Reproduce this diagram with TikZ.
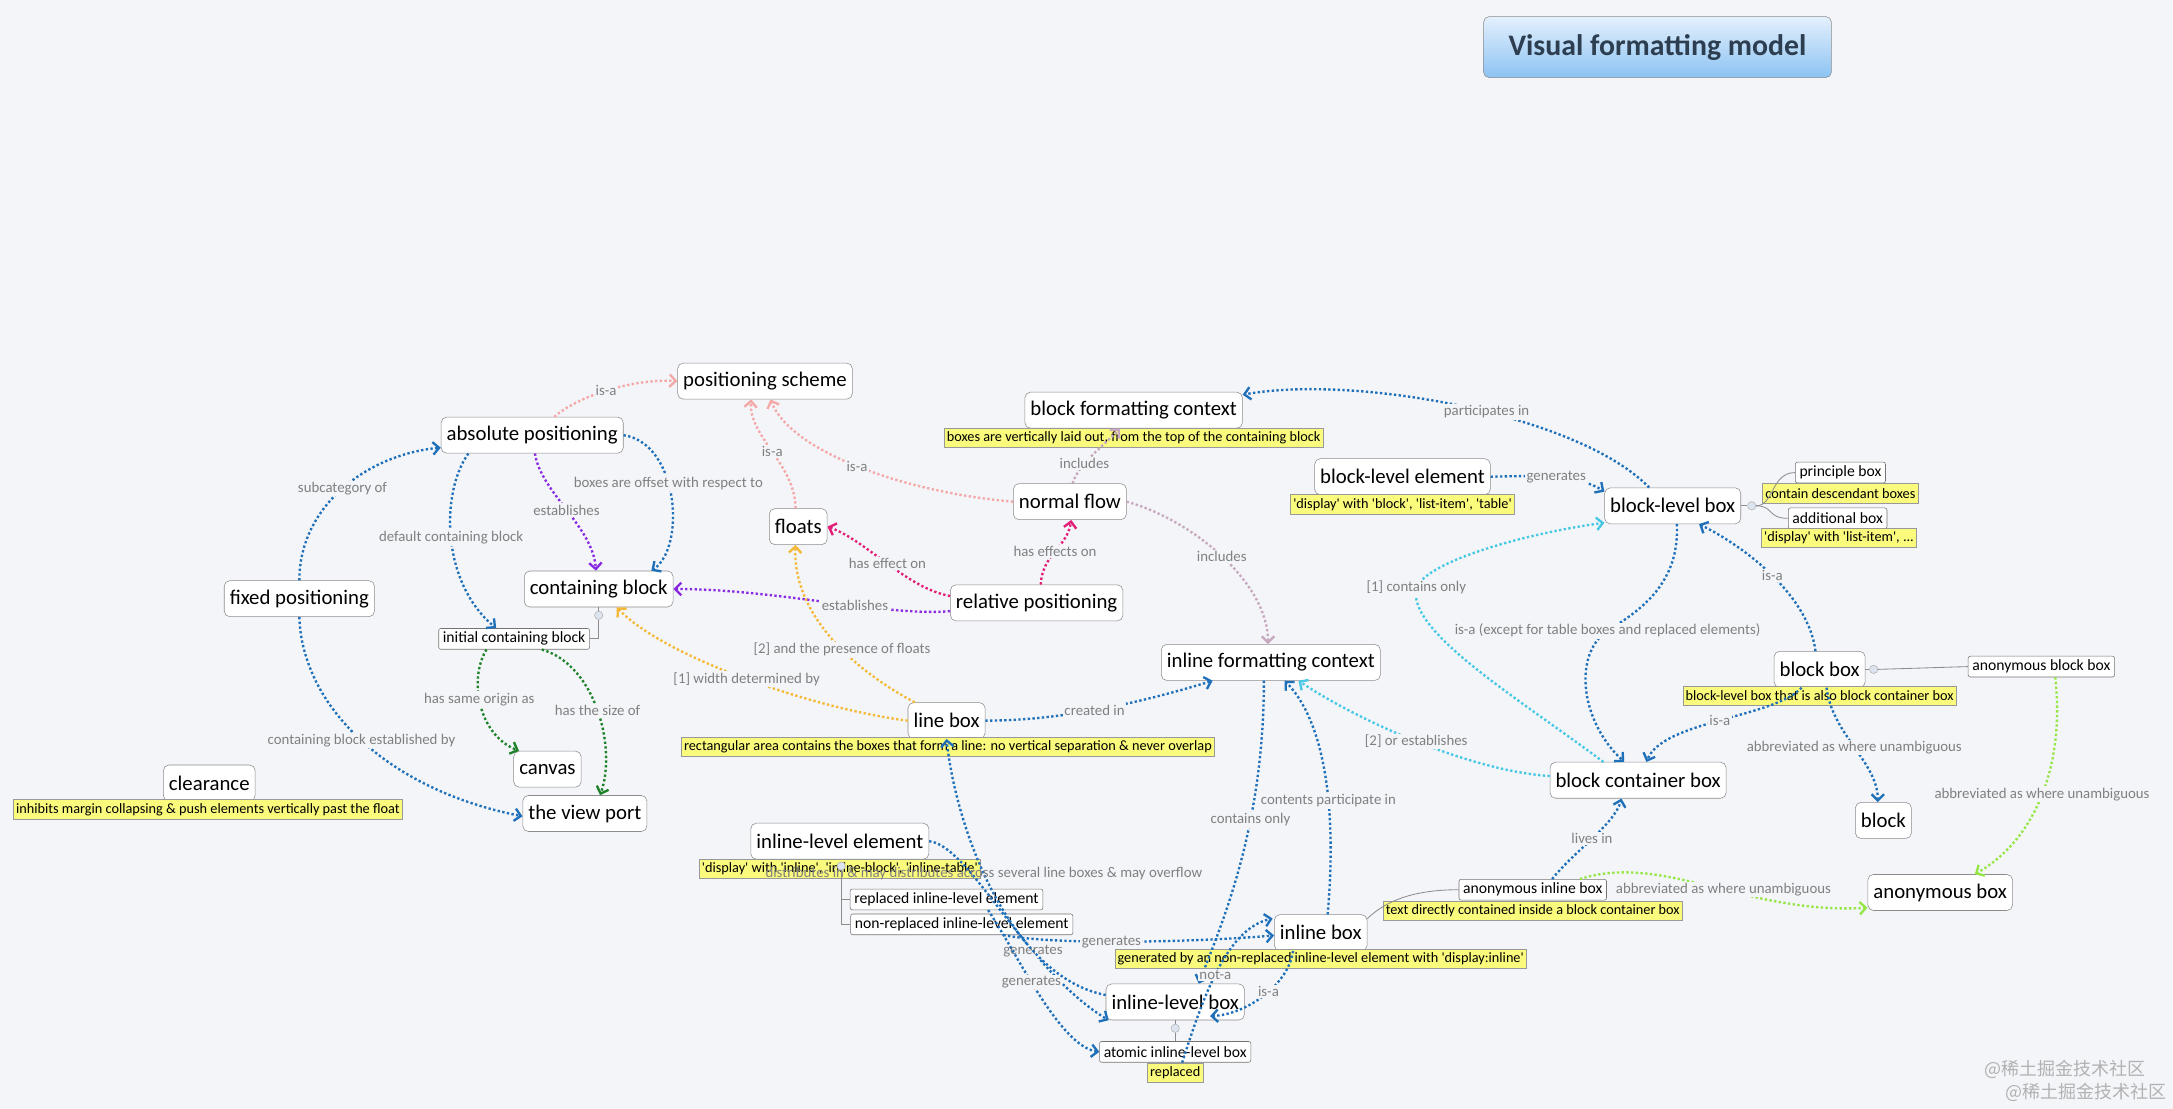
\documentclass[tikz,border=0pt]{standalone}
\usepackage{fontspec}
\setmainfont{Carlito}
\newfontfamily\cjk{Noto Sans CJK SC}
\usetikzlibrary{arrows.meta}

\definecolor{paper}{RGB}{243,245,249}
\definecolor{noteyellow}{RGB}{250,250,125}
\definecolor{knobblue}{RGB}{220,228,240}
\definecolor{titletop}{RGB}{228,240,253}
\definecolor{titlebot}{RGB}{140,195,242}
\definecolor{titletext}{RGB}{45,62,80}
\definecolor{cBlue}{RGB}{32,112,185}
\definecolor{cPink}{RGB}{244,168,168}
\definecolor{cPurple}{RGB}{138,43,226}
\definecolor{cMagenta}{RGB}{226,30,120}
\definecolor{cOrange}{RGB}{245,185,55}
\definecolor{cMauve}{RGB}{200,168,190}
\definecolor{cGreen}{RGB}{30,130,40}
\definecolor{cCyan}{RGB}{70,200,228}
\definecolor{cLime}{RGB}{150,230,70}

\newcommand{\qt}[1]{\textquotesingle#1\textquotesingle}

\begin{document}
\begin{tikzpicture}[x=1pt, y=1pt,
	heading/.style={draw=black!45, rounded corners=4pt, top color=titletop, bottom color=titlebot, text=titletext, font=\fontsize{21.5}{23}\selectfont\bfseries, minimum width=251pt, minimum height=44pt},
	topic/.style={draw=black!45, fill=white, rounded corners=4pt, font=\fontsize{15}{16}\selectfont, inner xsep=4pt, inner ysep=0pt, minimum height=26pt},
	sub/.style={draw=black!55, fill=white, rounded corners=1.5pt, font=\fontsize{11.3}{12}\selectfont, inner xsep=3pt, inner ysep=0pt, minimum height=15pt},
	note/.style={draw=black!40, fill=noteyellow, font=\fontsize{10.3}{11}\selectfont, inner xsep=2pt, inner ysep=0pt, minimum height=14pt},
	lbl/.style={text=black!50, font=\fontsize{10.7}{11}\selectfont, fill=paper, inner sep=1pt},
	rel/.style={line width=1.7pt, dash pattern=on 1.7pt off 1.7pt, -{Straight Barb[length=4.5pt,width=9pt]}},
	tree/.style={draw=black!45, line width=0.6pt},
	knob/.style={circle, draw=black!30, fill=knobblue, minimum size=6pt, inner sep=0pt},
	wmark/.style={text=black!30, font=\cjk\fontsize{13}{14}\selectfont, inner sep=0pt},
]

\useasboundingbox (0,0) rectangle (1568,-800);
\fill[paper] (0,0) rectangle (1568,-800);

\node[heading] (title) at (1196,-34) {Visual formatting model};

% positioning
\node[topic] (scheme) at (552,-275) {positioning scheme};
\node[topic] (abs) at (384,-314) {absolute positioning};
\node[topic] (fixed) at (216,-432) {fixed positioning};
\node[topic] (cb) at (432,-425) {containing block};
\node[sub] (icb) at (371,-461) {initial containing block};
\node[topic] (canvas) at (395,-555) {canvas};
\node[topic] (viewport) at (422,-587) {the view port};
\node[topic] (clear) at (151,-565) {clearance};
\node[note] (clearnote) at (150,-584) {inhibits margin collapsing \& push elements vertically past the float};
\node[topic] (floats) at (576,-380) {floats};
\node[topic] (normal) at (772,-362) {normal flow};
\node[topic] (relpos) at (748,-435) {relative positioning};

% block side
\node[topic] (bfc) at (818,-296) {block formatting context};
\node[note] (bfcnote) at (818,-316) {boxes are vertically laid out, from the top of the containing block};
\node[topic] (blel) at (1012,-344) {block-level element};
\node[note] (blelnote) at (1012,-364) {\qt{display} with \qt{block}, \qt{list-item}, \qt{table}};
\node[topic] (blbox) at (1207,-365) {block-level box};
\node[sub] (principle) at (1328,-341) {principle box};
\node[note] (principlenote) at (1328,-356) {contain descendant boxes};
\node[sub] (additional) at (1326,-374) {additional box};
\node[note] (additionalnote) at (1327,-388) {\qt{display} with \qt{list-item}, ...};
\node[topic] (blockbox) at (1313,-483) {block box};
\node[note] (blockboxnote) at (1313,-502) {block-level box that is also block container box};
\node[sub] (anonblock) at (1473,-481) {anonymous block box};
\node[topic] (block) at (1359,-592) {block};
\node[topic] (anonbox) at (1400,-644) {anonymous box};
\node[topic] (bcb) at (1182,-563) {block container box};

% inline side
\node[topic] (ifc) at (917,-478) {inline formatting context};
\node[topic] (linebox) at (683,-520) {line box};
\node[note] (lineboxnote) at (684,-539) {rectangular area contains the boxes that form a line: no vertical separation \& never overlap};
\node[topic] (ilel) at (606,-607) {inline-level element};
\node[note] (ilelnote) at (606,-627) {\qt{display} with \qt{inline}, \qt{inline-block}, \qt{inline-table}};
\node[sub] (replel) at (683,-649) {replaced inline-level element};
\node[sub] (nonrepl) at (694,-667) {non-replaced inline-level element};
\node[topic] (inlinebox) at (953,-673) {inline box};
\node[note] (inlineboxnote) at (953,-692) {generated by an non-replaced inline-level element with \qt{display:inline}};
\node[sub] (anoninline) at (1106,-642) {anonymous inline box};
\node[note] (anoninlinenote) at (1106,-657) {text directly contained inside a block container box};
\node[topic] (ilbox) at (848,-723) {inline-level box};
\node[sub] (atomic) at (848,-759) {atomic inline-level box};
\node[note] (atomicnote) at (848,-774) {replaced};

\node[wmark] (wm1) at (1490,-772) {@稀土掘金技术社区};
\node[wmark] (wm2) at (1505,-788) {@稀土掘金技术社区};

% tree lines
\node[knob] (cbknob) at (432,-444) {};
\node[knob] (ilelknob) at (607,-625) {};
\node[knob] (ilboxknob) at (848,-742) {};
\node[knob] (blknob) at (1264,-365) {};
\node[knob] (bbknob) at (1352,-483) {};
\draw[tree] (cb.south) -- (cbknob.north);
\draw[tree] (cbknob.south) |- (icb.east);
\draw[tree] (ilelknob.south) |- (replel.west);
\draw[tree] (ilelknob.south) |- (nonrepl.west);
\draw[tree] (ilbox.south) -- (ilboxknob.north);
\draw[tree] (ilboxknob.south) -- (atomic.north);
\draw[tree] (blbox.east) -- (blknob.west);
\draw[tree] (blknob.east) .. controls (1280,-365) and (1278,-341) .. (principle.west);
\draw[tree] (blknob.east) .. controls (1280,-365) and (1275,-374) .. (additional.west);
\draw[tree] (blockbox.east) -- (bbknob.west);
\draw[tree] (bbknob.east) -- (anonblock.west);
\draw[tree] ([yshift=-3]inlinebox.north east) .. controls (1000,-650) and (1020,-642) .. (anoninline.west);

% positioning relations
\draw[rel, cPink] ([xshift=16]abs.north) .. controls (415,-287) and (455,-273) .. (scheme.west) node[lbl, pos=0.5] {is-a};
\draw[rel, cPink] ([xshift=-2]floats.north) .. controls (574,-335) and (540,-315) .. ([xshift=-10]scheme.south) node[lbl, pos=0.5] {is-a};
\draw[rel, cPink] (normal.west) .. controls (650,-355) and (570,-325) .. ([xshift=4]scheme.south) node[lbl, pos=0.5] {is-a};
\draw[rel, cBlue] (fixed.north) .. controls (216,-365) and (265,-328) .. ([yshift=-9]abs.west) node[lbl, pos=0.5] {subcategory of};
\draw[rel, cBlue] (fixed.south) .. controls (218,-510) and (280,-570) .. ([yshift=-2]viewport.west) node[lbl, pos=0.5] {containing block established by};
\draw[rel, cBlue] ([xshift=-46]abs.south) .. controls (318,-355) and (318,-420) .. ([xshift=-13]icb.north) node[lbl, pos=0.5] {default containing block};
\draw[rel, cBlue] (abs.east) .. controls (490,-320) and (495,-395) .. ([xshift=38]cb.north) node[lbl, pos=0.42] {boxes are offset with respect to};
\draw[rel, cPurple] ([xshift=2]abs.south) .. controls (390,-355) and (428,-380) .. ([xshift=-2]cb.north) node[lbl, pos=0.5] {establishes};
\draw[rel, cGreen] ([xshift=-20]icb.south) .. controls (338,-490) and (345,-530) .. ([xshift=4]canvas.north west) node[lbl, pos=0.45] {has same origin as};
\draw[rel, cGreen] ([xshift=20]icb.south) .. controls (430,-480) and (445,-540) .. ([xshift=11]viewport.north) node[lbl, pos=0.5] {has the size of};

% flow relations
\draw[rel, cMauve] ([xshift=2]normal.north) .. controls (778,-335) and (796,-322) .. ([xshift=-10]bfc.south) node[lbl, pos=0.35] {includes};
\draw[rel, cMauve] (normal.east) .. controls (860,-375) and (915,-420) .. ([xshift=-2]ifc.north) node[lbl, pos=0.5] {includes};
\draw[rel, cMagenta] ([yshift=5]relpos.west) .. controls (655,-425) and (625,-390) .. (floats.east) node[lbl, pos=0.5] {has effect on};
\draw[rel, cMagenta] ([xshift=3]relpos.north) .. controls (752,-400) and (770,-395) .. ([xshift=1]normal.south) node[lbl, pos=0.5] {has effects on};
\draw[rel, cPurple] ([yshift=-6]relpos.west) .. controls (640,-445) and (560,-425) .. (cb.east) node[lbl, pos=0.4] {establishes};
\draw[rel, cOrange] (linebox.west) .. controls (590,-512) and (480,-475) .. ([xshift=13]cb.south) node[lbl, pos=0.5] {[1] width determined by};
\draw[rel, cOrange] ([xshift=-23]linebox.north) .. controls (610,-480) and (572,-440) .. ([xshift=-2]floats.south) node[lbl, pos=0.4] {[2] and the presence of floats};
\draw[rel, cBlue] (linebox.east) .. controls (770,-520) and (830,-505) .. ([xshift=-42]ifc.south) node[lbl, pos=0.45] {created in};

% block relations
\draw[rel, cBlue] ([xshift=-17]blbox.north) .. controls (1140,-300) and (980,-270) .. ([yshift=-2]bfc.north east) node[lbl, pos=0.45] {participates in};
\draw[rel, cBlue] (blel.east) .. controls (1110,-343) and (1140,-343) .. ([yshift=-3]blbox.north west) node[lbl, pos=0.5] {generates};
\draw[rel, cBlue] ([xshift=3]blbox.south) .. controls (1212,-420) and (1185,-440) .. (1160,-455) node[lbl] {is-a (except for table boxes and replaced elements)} .. controls (1135,-472) and (1140,-520) .. ([xshift=-10]bcb.north);
\draw[rel, cBlue] ([xshift=-3]blockbox.north) .. controls (1305,-430) and (1260,-395) .. ([xshift=19]blbox.south) node[lbl, pos=0.5] {is-a};
\draw[rel, cBlue] ([xshift=-13]blockbox.south) .. controls (1280,-518) and (1200,-520) .. ([xshift=6]bcb.north) node[lbl, pos=0.5] {is-a};
\draw[rel, cBlue] ([xshift=5]blockbox.south) .. controls (1322,-530) and (1355,-550) .. ([xshift=-4]block.north) node[lbl, pos=0.5] {abbreviated as where unambiguous};
\draw[rel, cBlue] ([xshift=14]anoninline.north) .. controls (1135,-615) and (1165,-595) .. ([xshift=-12]bcb.south) node[lbl, pos=0.5] {lives in};
\draw[rel, cCyan] ([xshift=-25]bcb.north) .. controls (1090,-500) and (1015,-455) .. (1022,-424) node[lbl] {[1] contains only} .. controls (1030,-405) and (1100,-385) .. ([yshift=1]blbox.south west);
\draw[rel, cCyan] ([yshift=3]bcb.west) .. controls (1060,-556) and (980,-520) .. ([xshift=20]ifc.south) node[lbl, pos=0.5] {[2] or establishes};
\draw[rel, cLime] ([xshift=10]anonblock.south) .. controls (1490,-550) and (1470,-605) .. ([xshift=25]anonbox.north) node[lbl, pos=0.5] {abbreviated as where unambiguous};
\draw[rel, cLime] ([xshift=34]anoninline.north) .. controls (1200,-615) and (1260,-660) .. ([yshift=-11]anonbox.west) node[lbl, pos=0.55] {abbreviated as where unambiguous};

% inline relations
\draw[rel, cBlue] (ilel.east) .. controls (700,-610) and (740,-700) .. ([xshift=-48]ilbox.south) node[lbl, pos=0.66] {generates};
\draw[rel, cBlue] ([xshift=30]replel.south) .. controls (735,-690) and (765,-755) .. (atomic.west) node[lbl, pos=0.42] {generates};
\draw[rel, cBlue] ([xshift=30]nonrepl.south) .. controls (760,-682) and (860,-680) .. ([yshift=-2]inlinebox.west) node[lbl, pos=0.45] {generates};
\draw[rel, cBlue] ([yshift=5]ilbox.west) .. controls (730,-705) and (690,-600) .. (linebox.south) node[lbl, fill=none, pos=0.57] {distributes in \& may distributes across several line boxes \& may overflow};
\draw[rel, cBlue] ([xshift=-5]ifc.south) .. controls (912,-600) and (880,-670) .. ([xshift=17]ilbox.north) node[lbl, pos=0.35] {contains only};
\draw[rel, cBlue] ([xshift=5]inlinebox.north) .. controls (965,-580) and (955,-520) .. ([xshift=10]ifc.south) node[lbl, pos=0.38] {contents participate in};
\draw[rel, cBlue] ([xshift=-20]inlinebox.south) .. controls (930,-710) and (900,-732) .. ([xshift=-25,yshift=3]ilbox.south east) node[lbl, pos=0.45] {is-a};
\draw[rel, cBlue] ([xshift=5]atomicnote.north) .. controls (868,-720) and (885,-670) .. ([xshift=-1,yshift=-3]inlinebox.north west) node[lbl, pos=0.47] {not-a};

\end{tikzpicture}
\end{document}
